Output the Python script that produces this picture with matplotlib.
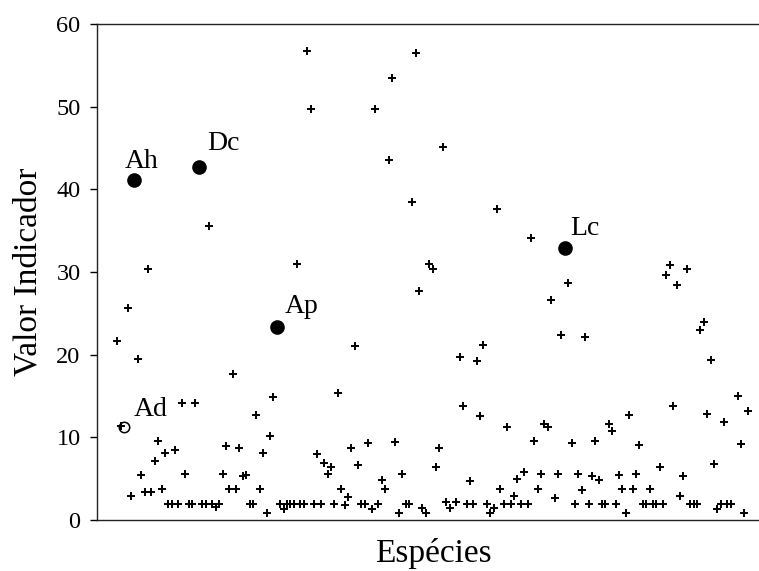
import matplotlib
matplotlib.use("Agg")
import matplotlib.pyplot as plt
import numpy as np

plt.rcParams["font.family"] = ["Liberation Serif", "DejaVu Serif"]

# Valor indicador de cada espécie, na ordem do eixo x (nan = sem ponto)
nan = np.nan
valor = [
    21.7, 11.4, 11.2, 25.6, 2.9, 41.1, 19.5, 5.4, 3.4, 30.3,      # 1-10
    3.4, 7.1, 9.5, 3.8, 8.1, 1.9, 1.9, 8.5, 1.9, 14.1,            # 11-20
    5.6, 1.9, 1.9, 14.2, 42.7, 1.9, 1.9, 35.6, 1.9, 1.6,          # 21-30
    1.9, 5.6, 8.9, 3.8, 17.7, 3.8, 8.7, 5.3, 5.4, 1.9,            # 31-40
    1.9, 12.7, 3.7, 8.1, 0.9, 10.1, 14.9, 23.3, 1.9, 1.3,         # 41-50
    1.9, 1.9, 1.9, 31.0, 1.9, 1.9, 56.7, 49.7, 1.9, 8.0,          # 51-60
    1.9, 6.9, 5.6, 6.4, 1.9, 15.4, 3.75, 1.8, 2.8, 8.75,          # 61-70
    21.0, 6.7, 1.9, 1.9, 9.3, 1.3, 49.7, 1.9, 4.8, 3.75,          # 71-80
    43.5, 53.4, 9.4, 0.9, 5.6, 1.9, 1.9, 38.5, 56.5, 27.7,        # 81-90
    1.5, 0.9, 31.0, 30.3, 6.45, 8.75, 45.1, 2.2, 1.5, nan,        # 91-100
    2.2, 19.7, 13.8, 1.9, 4.7, 1.9, 19.2, 12.6, 21.2, 1.9,        # 101-110
    0.9, 1.4, 37.6, 3.75, 1.9, 11.3, 1.9, 2.9, 5.0, 1.9,          # 111-120
    5.85, 1.9, 34.1, 9.6, 3.7, 5.6, 11.6, 11.3, 26.6, 2.7,        # 121-130
    5.6, 22.4, 32.9, 28.7, 9.3, 1.9, 5.6, 3.6, 22.1, 1.9,         # 131-140
    5.3, 9.6, 4.8, 1.9, 1.9, 11.6, 10.8, 1.9, 5.4, 3.7,           # 141-150
    0.9, 12.7, 3.7, 5.6, 9.1, 1.9, 1.9, 3.8, 1.9, 1.9,            # 151-160
    6.45, 1.9, 29.6, 30.8, 13.8, 28.4, 2.9, 5.3, 30.3, 1.9,       # 161-170
    1.9, 1.9, 23.0, 24.0, 12.8, 19.3, 6.8, 1.3, 1.9, 11.8,        # 171-180
    1.9, 1.9, nan, 15.0, 9.2, 0.9, 13.2,                          # 181-187
]

# espécies destacadas (posição no eixo x) e respectivas siglas
destaque_pos = [6, 25, 48, 133]
destaque_sigla = ["Ah", "Dc", "Ap", "Lc"]
ad_pos = 3
ad_sigla = "Ad"

valor = np.array(valor, dtype=float)
x = np.arange(1, len(valor) + 1)

mask = np.ones(len(valor), dtype=bool)
for p in destaque_pos + [ad_pos]:
    mask[p - 1] = False

fig = plt.figure(figsize=(7.59, 5.71), dpi=100)
# o eixo passa um pouco da borda direita da figura
ax = fig.add_axes([0.128, 0.0893, 0.8854, 0.869])

ax.plot(x[mask], valor[mask], linestyle="none", marker="+", color="black",
        markersize=5.5, markeredgewidth=1.4)

dx = np.array(destaque_pos)
ax.plot(dx, valor[dx - 1], linestyle="none", marker="o", color="black",
        markersize=9.5)
ax.plot([ad_pos], [valor[ad_pos - 1]], linestyle="none", marker="o",
        markerfacecolor="none", markeredgecolor="black", markersize=7.5,
        markeredgewidth=1.1)

# deslocamento das siglas em relação ao ponto (pontos tipográficos)
offsets = {"Ah": (-7, 9), "Dc": (6, 12), "Ap": (6, 10), "Lc": (4, 9)}
for p, s in zip(destaque_pos, destaque_sigla):
    ax.annotate(s, (p, valor[p - 1]), xytext=offsets[s],
                textcoords="offset points", fontsize=20)
ax.annotate(ad_sigla, (ad_pos, valor[ad_pos - 1]), xytext=(7, 8),
            textcoords="offset points", fontsize=20)

ax.set_xlim(-5, 193.3)
ax.set_ylim(0, 60)
ax.set_yticks(range(0, 61, 10))
ax.set_xticks([])
ax.tick_params(axis="y", direction="out", length=5, width=1, labelsize=17.5,
               pad=7)
ax.spines["right"].set_visible(False)
for s in ["left", "top", "bottom"]:
    ax.spines[s].set_linewidth(1.0)
    ax.spines[s].set_color("#222222")

ax.set_ylabel("Valor Indicador", fontsize=24, labelpad=9)
ax.set_xlabel("Espécies", fontsize=24, labelpad=13)

fig.savefig("out.png", dpi=100)
